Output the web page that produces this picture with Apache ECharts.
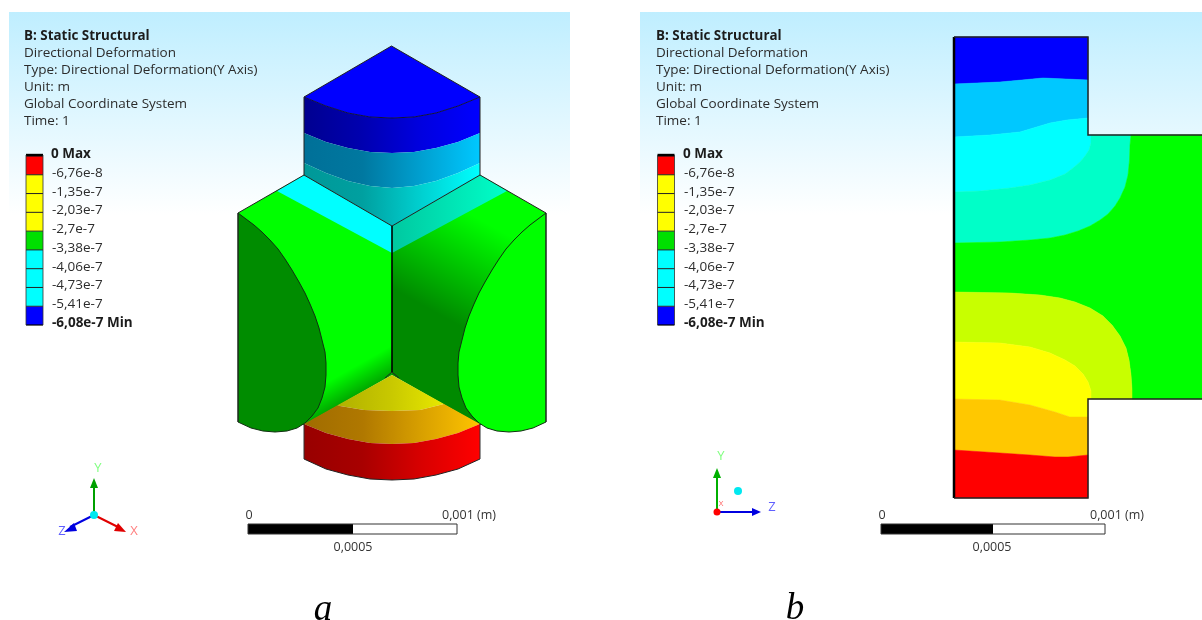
<!DOCTYPE html>
<html><head><meta charset="utf-8">
<style>html,body{margin:0;padding:0;background:#fff}#c{width:1202px;height:620px}</style>
<script src="https://cdn.jsdelivr.net/npm/echarts@6/dist/echarts.min.js"></script>
</head><body><div id="c"></div>
<script>
const headerLines = ['Directional Deformation','Type: Directional Deformation(Y Axis)','Unit: m','Global Coordinate System','Time: 1'];
const headerTitle = 'B: Static Structural';
const legendLabels = ['0 Max','-6,76e-8','-1,35e-7','-2,03e-7','-2,7e-7','-3,38e-7','-4,06e-7','-4,73e-7','-5,41e-7','-6,08e-7 Min'];
const legendColors = ['#ff0000','#ffff00','#ffff00','#ffff00','#00e000','#00ffff','#00ffff','#00ffff','#0000ff'];
const scaleLabels = ['0','0,001 (m)','0,0005'];
const captions = ['a','b'];

/* panel a: outlines */
const arcX = [304,326,348,370,392,414,436,458,480];
const arcTop = [97,106,113,117,118,117,113,106,97];
const arcBlue = [133,142,148,152,153,152,148,142,133];
const arcSky = [163,173,181,186,188,186,181,173,163];
const arcOrange = [424,433,439,443,444,443,439,433,424];
const arcRed = [459,469,475,479,480,479,475,469,459];
const arcYellow = [[337,405.5],[364,410],[392,411],[420,410],[444,404]];
const lensLeft = [[238,213],[246,219],[254,225],[262,232],[270,240],[278,249],[285,259],[292,270],[299,282],[305,293],[310,304],[315,316],[319,328],[322,340],[325,352],[326,363],[326,375],[325,387],[322,398],[318,408],[312,416],[305,423],[297,428],[287,431],[275,432],[263,431],[251,428],[238,422]];

/* panel b: contour boundaries */
const topEdge = [[954,37],[1088,37]];
const bound1 = [[954,84],[1000,82],[1022,80],[1043,78],[1088,80]];
const bound2 = [[954,137],[990,135],[1020,132],[1050,123],[1067,120],[1088,118]];
const bound3 = [[954,192],[980,191],[1010,188],[1030,185],[1050,180],[1065,174],[1073,168],[1080,162],[1085,156],[1089,150],[1091,143],[1091,135]];
const bound4 = [[954,243],[1000,242],[1030,240],[1050,238],[1065,235],[1078,231],[1090,226],[1100,220],[1108,214],[1115,206],[1120,198],[1125,187],[1128,175],[1129.5,160],[1130,145],[1131,135]];
const bound5 = [[954,292],[1010,293],[1040,295],[1060,298],[1075,302],[1090,308],[1103,316],[1112,325],[1120,336],[1126,348],[1129,360],[1131,375],[1132,390],[1132,399]];
const bound6 = [[954,342],[1000,343],[1030,347],[1050,353],[1065,360],[1075,366],[1083,374],[1088,382],[1091,391],[1091,399]];
const bound7 = [[954,399],[1000,400],[1030,405],[1055,412],[1070,417],[1088,417]];
const bound8 = [[954,450],[1000,453],[1030,455],[1055,457],[1068,457],[1088,455]];
const bandColors = ['#0000ff','#00c8ff','#00ffff','#00ffc8','#00ff00','#c8ff00','#ffff00','#ffc800','#ff0000'];

const rev = a => a.slice().reverse();
const zip = (xs, ys) => xs.map((x,i)=>[x,ys[i]]);
const hGrad = (x1,x2,stops) => ({type:'linear',x:x1,y:0,x2:x2,y2:0,global:true,
  colorStops:stops.map((c,i)=>({offset:i/(stops.length-1),color:c}))});
const vGrad = (y1,y2,c1,c2) => ({type:'linear',x:0,y:y1,x2:0,y2:y2,global:true,colorStops:[{offset:0,color:c1},{offset:1,color:c2}]});
const lGrad = (x,y,x2,y2,stops) => ({type:'linear',x,y,x2,y2,global:true,colorStops:stops});

const mirror = pts => pts.map(p=>[784-p[0],p[1]]);
const shapes = [];
const poly = (pts,fill,stroke,lw) => shapes.push({k:'p',pts,fill,stroke:stroke||null,lw:lw||0});
const line = (pts,stroke,lw) => shapes.push({k:'l',pts,stroke,lw});
const text = (x,y,t,o) => shapes.push(Object.assign({k:'t',x,y,t},o));
const circ = (x,y,r,fill) => shapes.push({k:'c',x,y,r,fill});

/* backgrounds */
const bgFill = vGrad(12,215,'#bfeeff','#ffffff');
poly([[9,12],[570,12],[570,215],[9,215]],bgFill);
poly([[640,12],[1202,12],[1202,215],[640,215]],bgFill);

/* panel a: left and right blocks */
const bodyLeft = [[238,213],[304,175],[392,226],[392,375],[304,425],[238,422]];
poly(bodyLeft, lGrad(345,372,362,402,[{offset:0,color:'#00ff00'},{offset:1,color:'#008a00'}]));
poly([[304,175],[392,226],[392,253],[277,191]],'#00ffff');
poly(lensLeft,'#008c00','#103010',1);
const bodyRight = mirror(bodyLeft);
poly(bodyRight, lGrad(490,225,440,315,[{offset:0,color:'#00ff00'},{offset:1,color:'#008a00'}]));
poly([[480,175],[392,226],[392,253],[507,191]], lGrad(392,0,507,0,[{offset:0,color:'#00c8a0'},{offset:1,color:'#00ffc8'}]));
poly(mirror(lensLeft),'#00ff00','#103010',1);
line([[238,422],[238,213],[304,175]],'#222',1);
line([[546,422],[546,213],[480,175]],'#222',1);

/* panel a: upper prism */
poly(zip(arcX,arcTop).concat(rev(zip(arcX,arcBlue))),hGrad(304,480,['#000090','#0000b0','#0000e0','#0000ff']));
poly(zip(arcX,arcBlue).concat(rev(zip(arcX,arcSky))),hGrad(304,480,['#007098','#0078a0','#00a0d0','#00c8ff']));
poly(zip(arcX,arcSky).concat([[480,175],[392,226],[304,175]]),hGrad(304,480,['#009898','#00a0a0','#00d0d0','#00ffff']));
poly([[391.5,46],[480,97]].concat(rev(zip(arcX,arcTop))),'#0000ff');
line(zip(arcX,arcTop),'#101040',1);
line([[304,97],[391.5,46],[480,97]],'#222',1);
line([[304,97],[304,175],[392,226],[480,175],[480,97]],'#222',1);

/* panel a: lower prism */
poly([[392,375]].concat(rev(arcYellow)),hGrad(337,444,['#b0b000','#c8c800','#e8e800']));
poly(arcYellow.concat([[480,424]]).concat(rev(zip(arcX,arcOrange))).concat([[304,424]]),hGrad(304,480,['#a06c00','#b07800','#d8a000','#ffc400']));
poly(zip(arcX,arcOrange).concat(rev(zip(arcX,arcRed))),hGrad(304,480,['#980000','#a80000','#d80000','#ff0000']));
line(zip(arcX,arcRed),'#222',1);
line([[304,424],[304,459]],'#333',1);
line([[480,424],[480,459]],'#333',1);
line([[392,226],[392,372]],'#000',1.6);
line([[385,378],[392,372],[399,378]],'#222',1);

/* panel b */
poly(topEdge.concat(rev(bound1)),bandColors[0],bandColors[0],.5);
poly(bound1.concat(rev(bound2)),bandColors[1],bandColors[1],.5);
poly(bound2.concat([[1088,135]]).concat(rev(bound3)),bandColors[2],bandColors[2],.5);
poly(bound3.concat(rev(bound4)),bandColors[3],bandColors[3],.5);
poly(bound4.concat([[1202,135],[1202,399]]).concat(rev(bound5)),bandColors[4],bandColors[4],.5);
poly(bound5.concat(rev(bound6)),bandColors[5],bandColors[5],.5);
poly(bound6.concat([[1088,399]]).concat(rev(bound7)),bandColors[6],bandColors[6],.5);
poly(bound7.concat(rev(bound8)),bandColors[7],bandColors[7],.5);
poly(bound8.concat([[1088,498],[954,498]]),bandColors[8],bandColors[8],.5);
line([[954,498],[954,37]],'#000',2.5);
line([[954,37],[1088,37],[1088,135],[1202,135]],'#222',1.5);
line([[1202,399],[1088,399],[1088,498],[954,498]],'#222',1.5);

/* headers and legends */
const font = '"Open Sans"';
[0,632].forEach(dx=>{
  text(24+dx,36,headerTitle,{fs:13.4,fw:'bold',fam:font,c:'#1c1c1c',ls:-.1});
  headerLines.forEach((s,i)=>text(24+dx,53+i*17,s,{fs:13.5,fam:font,c:'#2c2c2c'}));
  const sx = 26+dx-(dx?0.5:0);
  legendColors.forEach((c,i)=>{
    const y = 156+i*18.78;
    poly([[sx,y],[sx+17,y],[sx+17,y+18.78],[sx,y+18.78]],c);
    line([[sx,y],[sx+17,y]],i===8||i===4?'#333':'#222',1);
  });
  line([[sx,155],[sx+17,155]],'#000',2.4);
  line([[sx,325],[sx+17,325]],'#000',1.2);
  line([[sx,155],[sx,325]],'#333',.8);
  line([[sx+17,155],[sx+17,325]],'#333',.8);
  legendLabels.forEach((s,i)=>{
    const bold = i===0||i===9;
    text((i===0?51:52)+dx,154.5+i*18.7,s,{fs:13.5,fw:bold?'bold':'normal',fam:font,c:bold?'#1c1c1c':'#2c2c2c'});
  });
});

/* scale bars */
const scaleBar = (x0,xm,x1,lx0,lx1,lxm)=>{
  poly([[x0,524],[x1,524],[x1,534],[x0,534]],'#ffffff');
  poly([[x0,524],[xm,524],[xm,534],[x0,534]],'#000000');
  line([[x0,524],[x1,524],[x1,534],[x0,534],[x0,524]],'#333',1);
  text(lx0,515,scaleLabels[0],{fs:12.5,fam:font,c:'#333',al:'center'});
  text(lx1,515,scaleLabels[1],{fs:12.5,fam:font,c:'#333',al:'center'});
  text(lxm,547,scaleLabels[2],{fs:12.5,fam:font,c:'#333',al:'center'});
};
scaleBar(248,353,457,249,469,353);
scaleBar(881,993,1105,882,1117,992);

/* triads */
const arrow = (a,b,head,c,lw)=>{ line([a,b],c,lw); poly(head,c); };
arrow([94,515],[94,482],[[94,478],[98,488],[90,488]],'#00a000',2);
arrow([94,515],[118,527],[[126,532],[114,531],[118,523]],'#e00000',2);
arrow([94,515],[70,527],[[64,532],[74,523],[77,531]],'#0000e0',2);
circ(94,515,4,'#00e8f0');
text(98,468,'Y',{fs:13,fam:font,c:'#80ff80',al:'center'});
text(134,531,'X',{fs:13,fam:font,c:'#ff8080',al:'center'});
text(62,531,'Z',{fs:13,fam:font,c:'#6060ff',al:'center'});

arrow([717,512],[717,474],[[717,468],[721,478],[713,478]],'#00b000',2);
arrow([717,512],[756,512],[[761,512],[752,508],[752,516]],'#0000e0',2);
circ(717,512,3.5,'#ff0000');
circ(738,491,4,'#00e8f0');
text(721,456,'Y',{fs:13,fam:font,c:'#80ff80',al:'center'});
text(772,507,'Z',{fs:13,fam:font,c:'#6060ff',al:'center'});
text(721,504,'X',{fs:8,fam:font,c:'#ff6060',al:'center'});

/* captions */
text(323,610,captions[0],{fs:37,fam:'"Liberation Serif"',fs2:'italic',c:'#000',al:'center'});
text(795,609,captions[1],{fs:37,fam:'"Liberation Serif"',fs2:'italic',c:'#000',al:'center'});

function renderItem(params, api){
  const s = shapes[api.value(0)];
  const co = p => api.coord(p);
  if(s.k==='p') return {type:'polygon',silent:true,shape:{points:s.pts.map(co)},style:{fill:s.fill,stroke:s.stroke,lineWidth:s.lw}};
  if(s.k==='l') return {type:'polyline',silent:true,shape:{points:s.pts.map(co)},style:{fill:null,stroke:s.stroke,lineWidth:s.lw}};
  if(s.k==='c'){ const c=co([s.x,s.y]); return {type:'circle',silent:true,shape:{cx:c[0],cy:c[1],r:s.r},style:{fill:s.fill}}; }
  const c = co([s.x,s.y]);
  return {type:'text',silent:true,x:c[0],y:c[1],style:{text:s.t,fill:s.c,fontFamily:s.fam,fontSize:s.fs,fontWeight:s.fw||'normal',fontStyle:s.fs2||'normal',align:s.al||'left',verticalAlign:'middle'}};
}
const chart = echarts.init(document.getElementById('c'),null,{renderer:'canvas'});
chart.setOption({
  animation:false,
  grid:{left:0,right:0,top:0,bottom:0},
  xAxis:{type:'value',min:0,max:1202,show:false},
  yAxis:{type:'value',min:0,max:620,inverse:true,show:false},
  series:[{type:'custom',renderItem,clip:false,data:shapes.map((_,i)=>[i])}]
});
</script></body></html>
